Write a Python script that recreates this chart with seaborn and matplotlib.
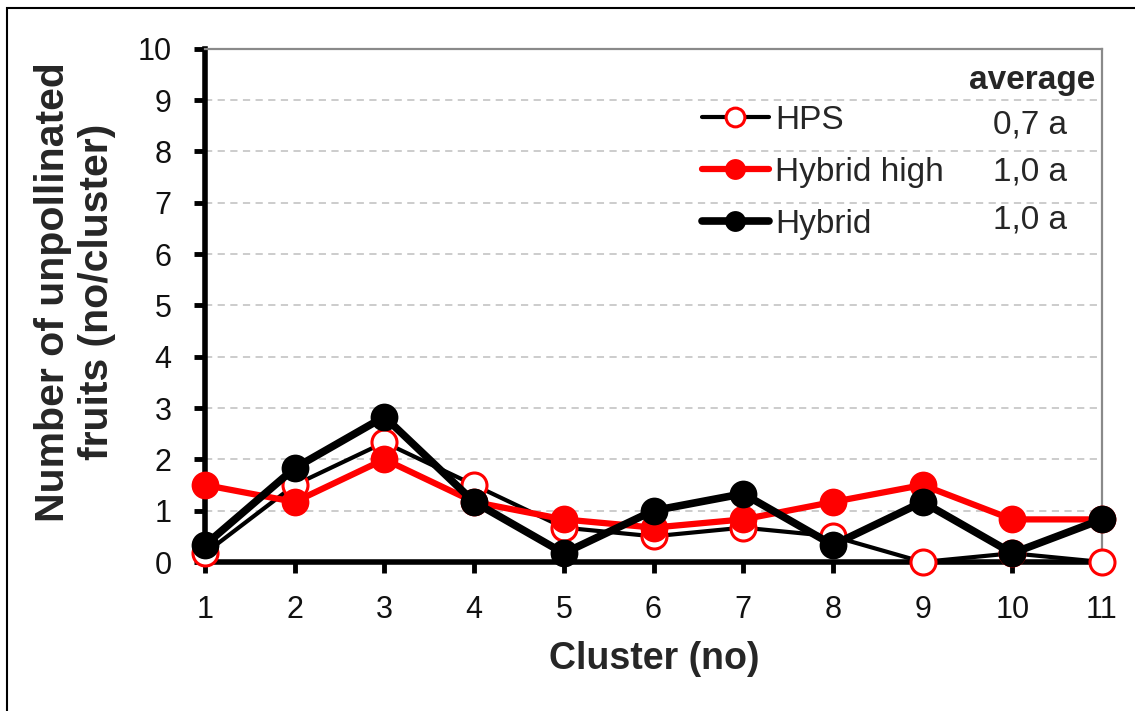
import pandas as pd
import seaborn as sns
import matplotlib.pyplot as plt
import numpy as np

# data
clusters = list(range(1, 12))
hps = [0.17, 1.5, 2.33, 1.5, 0.67, 0.5, 0.67, 0.5, 0.0, 0.17, 0.0]
hybrid_high = [1.5, 1.17, 2.0, 1.17, 0.83, 0.67, 0.83, 1.17, 1.5, 0.83, 0.83]
hybrid = [0.33, 1.83, 2.83, 1.17, 0.17, 1.0, 1.33, 0.33, 1.17, 0.17, 0.83]
series_names = ['HPS', 'Hybrid high', 'Hybrid']
averages = ['0,7 a', '1,0 a', '1,0 a']
y_ticks = list(range(0, 11))

sns.set_style('white')
plt.rcParams['font.family'] = ['Liberation Sans', 'DejaVu Sans']

fig = plt.figure(figsize=(11.35, 7.11), dpi=100)
ax = fig.add_axes([205 / 1135, 1 - 562 / 711, 897 / 1135, 513.3 / 711])

# HPS: thin black line, open red circles
sns.lineplot(x=clusters, y=hps, ax=ax, color='black', linewidth=3,
             marker='o', markersize=18, markerfacecolor='white',
             markeredgecolor='red', markeredgewidth=2.2,
             label=series_names[0], clip_on=False, zorder=3)
# Hybrid high: red line, red filled circles
sns.lineplot(x=clusters, y=hybrid_high, ax=ax, color='red', linewidth=4.5,
             marker='o', markersize=20, markerfacecolor='red',
             markeredgecolor='red', markeredgewidth=0,
             label=series_names[1], clip_on=False, zorder=4)
# Hybrid: thick black line, black filled circles
sns.lineplot(x=clusters, y=hybrid, ax=ax, color='black', linewidth=5.5,
             marker='o', markersize=20, markerfacecolor='black',
             markeredgecolor='black', markeredgewidth=0,
             label=series_names[2], clip_on=False, zorder=5)

ax.set_xlim(1, 11)
ax.set_ylim(0, 10)
ax.set_xticks(clusters)
ax.set_yticks(y_ticks)
ax.set_xlabel('')
ax.set_ylabel('')

# gridlines
for yv in y_ticks[1:-1]:
    ax.axhline(yv, color='#c8c8c8', linewidth=1.3, linestyle=(0, (4, 3)), zorder=1)

# spines
for side in ['top', 'right']:
    ax.spines[side].set_color('#8a8a8a')
    ax.spines[side].set_linewidth(1.6)
for side in ['left', 'bottom']:
    ax.spines[side].set_color('black')
    ax.spines[side].set_linewidth(4)

ax.tick_params(axis='both', direction='out', length=8, width=3.5,
               color='black', labelsize=22, pad=16, labelcolor='#111111')
ax.tick_params(axis='y', left=True)
ax.tick_params(axis='x', bottom=True)

# axis labels
fig.text(75 / 1135, 1 - 292 / 711, 'Number of unpollinated\nfruits (no/cluster)',
         rotation=90, ha='center', va='center', fontsize=29.5, fontweight='bold',
         multialignment='center', linespacing=1.2)
fig.text(654 / 1135, 1 - 659 / 711, 'Cluster (no)', ha='center', va='center',
         fontsize=27, fontweight='bold')

# legend
ax.legend(loc='upper left', bbox_to_anchor=(0.554, 0.891), frameon=False,
          fontsize=24, handlelength=2.0, handletextpad=0.2, labelspacing=0.63,
          borderpad=0, borderaxespad=0, markerscale=0.75)

# averages column
ax.text(0.992, 0.939, 'average', transform=ax.transAxes, ha='right', va='center',
        fontsize=24, fontweight='bold')
for val, yy in zip(averages, [0.851, 0.760, 0.666]):
    ax.text(0.920, yy, val, transform=ax.transAxes, ha='center', va='center',
            fontsize=24)

# outer chart border (only left and top visible)
fig.add_artist(plt.Rectangle((7 / 1135, -0.1), 1.2, 1 - 8 / 711 + 0.1,
                             transform=fig.transFigure, fill=False,
                             edgecolor='black', linewidth=1.5))

fig.savefig('out.png', dpi=100)
